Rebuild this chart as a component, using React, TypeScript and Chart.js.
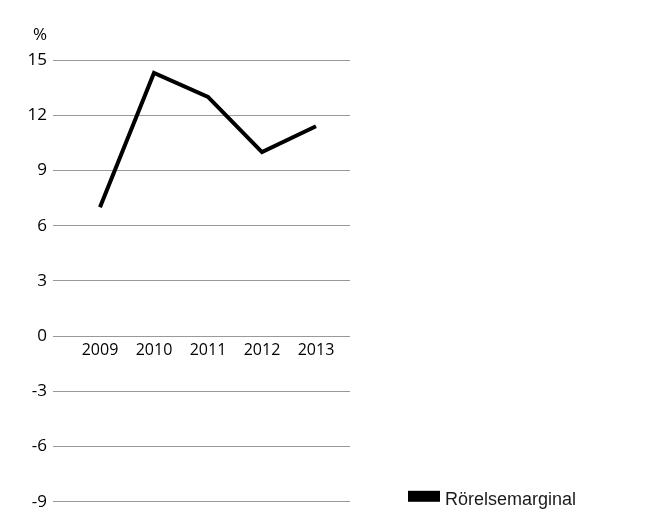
import { useEffect, useRef } from "react";
import { Chart, registerables } from "chart.js";

Chart.register(...registerables);

const years = ["2009", "2010", "2011", "2012", "2013"];
const rorelsemarginal = [7.0, 14.3, 13.0, 10.0, 11.4];
const seriesLabel = "Rörelsemarginal";
const yUnit = "%";
const yMin = -9;
const yMax = 15;
const yStep = 3;

export default function App() {
  const ref = useRef<HTMLCanvasElement>(null);

  useEffect(() => {
    if (!ref.current) return;

    const extrasPlugin = {
      id: "extras",
      afterDraw(chart: any) {
        const ctx = chart.ctx;
        const ca = chart.chartArea;
        const yScale = chart.scales.y;
        ctx.save();
        // unit label above the y axis
        ctx.fillStyle = "#000";
        ctx.font = "17px 'Open Sans'";
        ctx.textAlign = "right";
        ctx.textBaseline = "middle";
        ctx.fillText(yUnit, yScale.right - 6, yScale.getPixelForValue(yMax) - 25);
        // legend
        const ds = chart.data.datasets[0];
        const bx = ca.right + 58;
        const by = ca.bottom - 11;
        ctx.fillStyle = ds.borderColor;
        ctx.fillRect(bx, by, 32, 11);
        ctx.fillStyle = "#1a1a1a";
        ctx.font = "18px 'Liberation Sans', Arial, sans-serif";
        ctx.textAlign = "left";
        ctx.textBaseline = "alphabetic";
        ctx.fillText(ds.label, bx + 37, ca.bottom + 3);
        ctx.restore();
      },
    };

    const chart = new Chart(ref.current, {
      type: "line",
      data: {
        datasets: [
          {
            label: seriesLabel,
            data: years.map((_, i) => ({ x: i, y: rorelsemarginal[i] })),
            borderColor: "#000",
            backgroundColor: "#000",
            borderWidth: 4,
            pointRadius: 0,
            tension: 0,
          },
        ],
      },
      options: {
        responsive: false,
        animation: false,
        layout: { padding: { top: 52, bottom: 14, left: 0, right: 303 } },
        plugins: { legend: { display: false }, tooltip: { enabled: false } },
        scales: {
          x: {
            type: "linear",
            position: { y: 0 },
            min: -0.87,
            max: 4.63,
            afterBuildTicks: (s: any) => {
              s.ticks = years.map((_, i) => ({ value: i }));
            },
            ticks: {
              callback: (v: any) => years[v],
              font: { family: "'Open Sans'", size: 16 },
              color: "#000",
              padding: 5,
              maxRotation: 0,
              autoSkip: false,
            },
            grid: { display: false, drawTicks: false },
            border: { display: false },
          },
          y: {
            min: yMin,
            max: yMax,
            afterFit: (s: any) => {
              s.width = 45;
            },
            ticks: {
              stepSize: yStep,
              font: { family: "'Open Sans'", size: 17 },
              color: "#000",
              padding: 6,
            },
            grid: { color: "#999", drawTicks: false, lineWidth: 1 },
            border: { display: false },
          },
        },
      },
      plugins: [extrasPlugin],
    } as any);

    return () => chart.destroy();
  }, []);

  return (
    <div style={{ width: 645, height: 510 }}>
      <canvas ref={ref} width={645} height={510} style={{ display: "block" }} />
    </div>
  );
}
